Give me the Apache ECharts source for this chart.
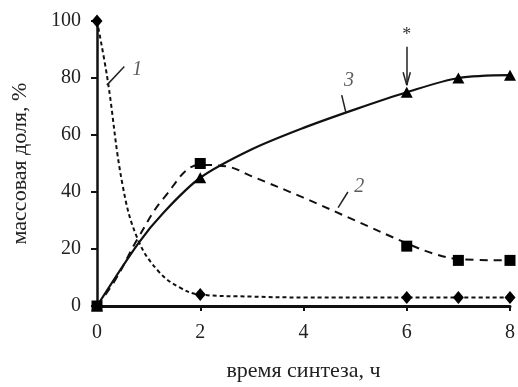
<!DOCTYPE html>
<html>
<head>
<meta charset="utf-8">
<script src="https://cdn.jsdelivr.net/npm/echarts@6/dist/echarts.min.js"></script>
<style>
  html, body { margin: 0; padding: 0; background: #fff; }
  #chart { width: 518px; height: 387px; }
</style>
</head>
<body>
<div id="chart"></div>
<script>
// measured points (markers)
const markX = [0, 2, 6, 7, 8]
const frac1 = [100, 4, 3, 3, 3]
const frac2 = [0, 50, 21, 16, 16]
const frac3 = [0, 45, 75, 80, 81]

// curves
const curve1 = [[0, 100], [0.2, 80], [0.5, 42], [0.8, 23], [1.2, 12], [1.6, 6.5], [2, 4], [3, 3.3], [4, 3], [6, 3], [7, 3], [8, 3]]
const curve2 = [[0, 0], [0.35, 9], [0.8, 24], [1.3, 38], [2, 49.5], [2.5, 49], [3, 45.5], [4, 38], [5, 30], [6, 22], [6.5, 18.5], [7, 16.5], [8, 16]]
const curve3 = [[0, 0], [0.8, 22], [1.3, 33], [2, 45], [3, 55], [4, 62.5], [5, 69], [6, 75], [7, 80], [8, 81]]

// curve labels and the arrow mark
const curveLabels = [[0.78, 83, '1'], [4.88, 79, '3'], [5.08, 42, '2']]
const leaders = [
  [[0.19, 77.5], [0.53, 84]],
  [[4.82, 68], [4.74, 74]],
  [[4.67, 34.5], [4.86, 40]],
]
const arrowX = 6
const arrowTop = 91
const arrowTip = 77.5

const serif = 'Liberation Serif'
const chart = echarts.init(document.getElementById('chart'))

function pts(ys) {
  return markX.map((x, i) => [x, ys[i]])
}

chart.setOption({
  animation: false,
  grid: { left: 97, right: 1, top: 21, bottom: 72 },
  xAxis: {
    type: 'value',
    min: 0,
    max: 8,
    interval: 2,
    name: 'время синтеза, ч',
    nameLocation: 'middle',
    nameGap: 54,
    nameTextStyle: { fontFamily: serif, fontSize: 22, color: '#222' },
    axisLine: { lineStyle: { color: '#111', width: 3 } },
    axisTick: { show: true, length: 5, lineStyle: { color: '#111', width: 2 } },
    axisLabel: { fontFamily: serif, fontSize: 20, color: '#222', margin: 17 },
    splitLine: { show: false },
  },
  yAxis: {
    type: 'value',
    min: 0,
    max: 100,
    interval: 20,
    name: 'массовая доля, %',
    nameLocation: 'middle',
    nameGap: 66,
    nameTextStyle: { fontFamily: serif, fontSize: 22, color: '#222' },
    axisLine: { show: true, lineStyle: { color: '#111', width: 2.5 } },
    axisTick: { show: true, length: 6, lineStyle: { color: '#111', width: 2 } },
    axisLabel: { fontFamily: serif, fontSize: 20, color: '#222', margin: 16 },
    splitLine: { show: false },
  },
  series: [
    {
      type: 'line',
      data: curve1,
      smooth: 0.4,
      showSymbol: false,
      lineStyle: { color: '#111', width: 2, type: [4, 3] },
    },
    {
      type: 'line',
      data: curve2,
      smooth: 0.4,
      showSymbol: false,
      lineStyle: { color: '#111', width: 2, type: [8, 6] },
    },
    {
      type: 'line',
      data: curve3,
      smooth: 0.3,
      showSymbol: false,
      lineStyle: { color: '#111', width: 2.2 },
    },
    {
      type: 'scatter',
      data: pts(frac1),
      symbol: 'diamond',
      symbolSize: [11, 13],
      itemStyle: { color: '#000', opacity: 1 },
      z: 5,
    },
    {
      type: 'scatter',
      data: pts(frac2),
      symbol: 'rect',
      symbolSize: 11,
      itemStyle: { color: '#000', opacity: 1 },
      z: 5,
    },
    {
      type: 'scatter',
      data: pts(frac3),
      symbol: 'triangle',
      symbolSize: [12, 11],
      itemStyle: { color: '#000', opacity: 1 },
      z: 6,
    },
    {
      type: 'scatter',
      data: curveLabels,
      symbolSize: 0,
      label: {
        show: true,
        position: 'inside',
        formatter: (p) => p.value[2],
        fontFamily: serif,
        fontStyle: 'italic',
        fontSize: 20,
        color: '#333',
      },
      markLine: {
        silent: true,
        symbol: 'none',
        label: { show: false },
        lineStyle: { color: '#222', width: 1.5, type: 'solid' },
        data: [
          ...leaders.map(l => [{ coord: l[0] }, { coord: l[1] }]),
          [{ coord: [arrowX, arrowTop] }, { coord: [arrowX, arrowTip] }],
          [{ coord: [arrowX - 0.07, arrowTip + 4.5] }, { coord: [arrowX, arrowTip] }],
          [{ coord: [arrowX + 0.07, arrowTip + 4.5] }, { coord: [arrowX, arrowTip] }],
        ],
      },
      markPoint: {
        silent: true,
        symbol: 'circle',
        symbolSize: 0,
        label: { show: true, formatter: '*', fontFamily: serif, fontSize: 18, color: '#333' },
        data: [{ coord: [arrowX, 95] }],
      },
    },
  ],
})
</script>
</body>
</html>
